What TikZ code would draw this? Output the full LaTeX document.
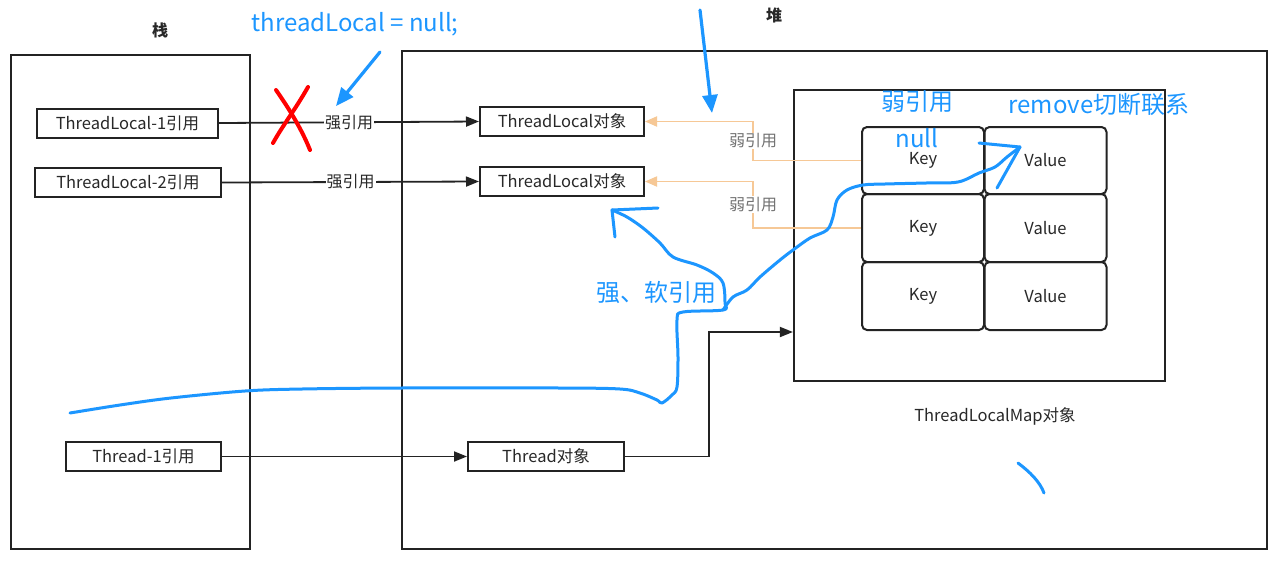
\documentclass[tikz,border=0pt]{standalone}
\usepackage{fontspec}
\setmainfont{Noto Sans CJK SC}
\usetikzlibrary{arrows.meta}
\definecolor{annblue}{RGB}{28,150,255}
\definecolor{weakor}{RGB}{246,200,150}
\definecolor{frame}{RGB}{35,35,35}
\definecolor{txt}{RGB}{40,40,40}
\begin{document}
\begin{tikzpicture}[x=1pt,y=-1pt,
  region/.style={draw=frame, line width=2.2pt, inner sep=0pt},
  refbox/.style={draw=frame, line width=2pt, inner sep=0pt, minimum height=29pt, text=txt, font=\fontsize{16.5}{18}\selectfont},
  cell/.style={draw=frame, line width=2pt, rounded corners=5pt, inner sep=0pt, minimum width=122pt, text=txt, font=\fontsize{16.5}{18}\selectfont},
  lbl/.style={text=txt, font=\fontsize{16}{18}\selectfont, fill=white, inner sep=1pt},
  wlbl/.style={text=black!55, font=\fontsize{16}{18}\selectfont, fill=white, inner sep=1pt},
  strong/.style={draw=frame, line width=1.8pt, -{Triangle[length=13pt,width=10pt]}},
  weak/.style={draw=weakor, line width=1.8pt, -{Triangle[length=12pt,width=10pt]}},
  head/.style={text=txt, font=\fontsize{16}{18}\selectfont\bfseries},
  ann/.style={text=annblue, font=\fontsize{24}{27}\selectfont},
  annline/.style={draw=annblue, line width=3pt, line cap=round, line join=round},
  annarrow/.style={draw=annblue, line width=3.2pt, line cap=round, -{Triangle[length=18pt,width=15pt]}}
]
\useasboundingbox (0,0) rectangle (1280,574);
\fill[white] (0,0) rectangle (1280,574);

% regions
\node[region, minimum width=239pt, minimum height=494pt] (stack) at (130.5,302) {};
\node[region, minimum width=865pt, minimum height=498pt] (heap) at (834.5,300) {};
\node[region, minimum width=371pt, minimum height=291pt] (map) at (979.5,235.5) {};
\node[head] (stacklbl) at (160,30) {栈};
\node[head] (heaplbl) at (774,15) {堆};
\node[text=txt, font=\fontsize{16.5}{18}\selectfont] (maplbl) at (995,416) {ThreadLocalMap对象};

% stack refs
\node[refbox, minimum width=181pt] (tl1ref) at (127.5,123) {ThreadLocal-1引用};
\node[refbox, minimum width=186pt] (tl2ref) at (128,182.5) {ThreadLocal-2引用};
\node[refbox, minimum width=155pt] (thref) at (143.5,456.5) {Thread-1引用};

% heap objects
\node[refbox, minimum width=164pt] (tlobj1) at (562,121.5) {ThreadLocal对象};
\node[refbox, minimum width=164pt] (tlobj2) at (562,181.5) {ThreadLocal对象};
\node[refbox, minimum width=156pt] (thobj) at (546,456.5) {Thread对象};

% entry cells
\node[cell, minimum height=67pt] (k1) at (923,160.5) {Key};
\node[cell, minimum height=67pt] (v1) at (1045.5,160.5) {Value};
\node[cell, minimum height=68pt] (k2) at (923,228) {Key};
\node[cell, minimum height=68pt] (v2) at (1045.5,228) {Value};
\node[cell, minimum height=68pt] (k3) at (923,296) {Key};
\node[cell, minimum height=68pt] (v3) at (1045.5,296) {Value};

% strong refs
\draw[strong] (tl1ref.east) -- node[lbl, midway] (s1) {强引用} (tlobj1.west);
\draw[strong] (tl2ref.east) -- node[lbl, midway] (s2) {强引用} (tlobj2.west);
\draw[strong] (thref.east) -- (thobj.west);
\coordinate (bend) at (709,332);
\draw[strong] (thobj.east) -| (bend) -- (bend -| map.west);

% weak refs
\coordinate (w1) at (753,121.5);
\coordinate (w2) at (753,181.5);
\draw[weak] (k1.west) -| node[wlbl, pos=0.75] (wl1) {弱引用} (w1) -- (tlobj1.east);
\draw[weak] (k2.west) -| node[wlbl, pos=0.75] (wl2) {弱引用} (w2) -- (tlobj2.east);

% ---- hand annotations ----
\node[ann] (code) at (355,24) {threadLocal = null;};
\draw[annarrow] (380,52) -- (336,106);
\draw[annarrow] (700,10) -- (712,113);
\draw[draw=red, line width=4pt, line cap=round] (308,87) .. controls (295,110) and (283,125) .. (273,143);
\draw[draw=red, line width=4pt, line cap=round] (276,90) .. controls (290,110) and (302,130) .. (310,150);

\node[ann] (weakann) at (917,102) {弱引用};
\node[ann] (rmann) at (1099,104) {remove切断联系};
\node[ann] (nullann) at (917,138) {null};
\node[ann] (softann) at (656,292) {强、软引用};

\draw[annline] plot[smooth, tension=0.55] coordinates {(70,413) (120,405) (171,398) (245,391) (302,389) (400,388) (560,388) (620,389) (640,393) (657,400) (662,403) (672,395) (677,387) (678,357) (677,320) (683,312) (723,310) (725,303) (723,283) (713,273) (697,265) (673,257) (660,243) (643,228) (627,217) (612,210)};
\draw[annline] (612,210) -- (658,208);
\draw[annline] (612,210) -- (615,237);

\draw[annline] plot[smooth, tension=0.55] coordinates {(723,310) (733,297) (747,290) (760,277) (780,260) (793,250) (810,238) (827,230) (833,217) (837,200) (847,190) (863,185) (885,184) (926,183) (958,182) (979,173) (995,167) (1007,157) (1020,147)};
\draw[annline] (1020,147) -- (979,143);
\draw[annline] (1020,147) -- (997,188);

\draw[annline] (1018,463) .. controls (1030,472) and (1040,482) .. (1044,493);
\end{tikzpicture}
\end{document}
